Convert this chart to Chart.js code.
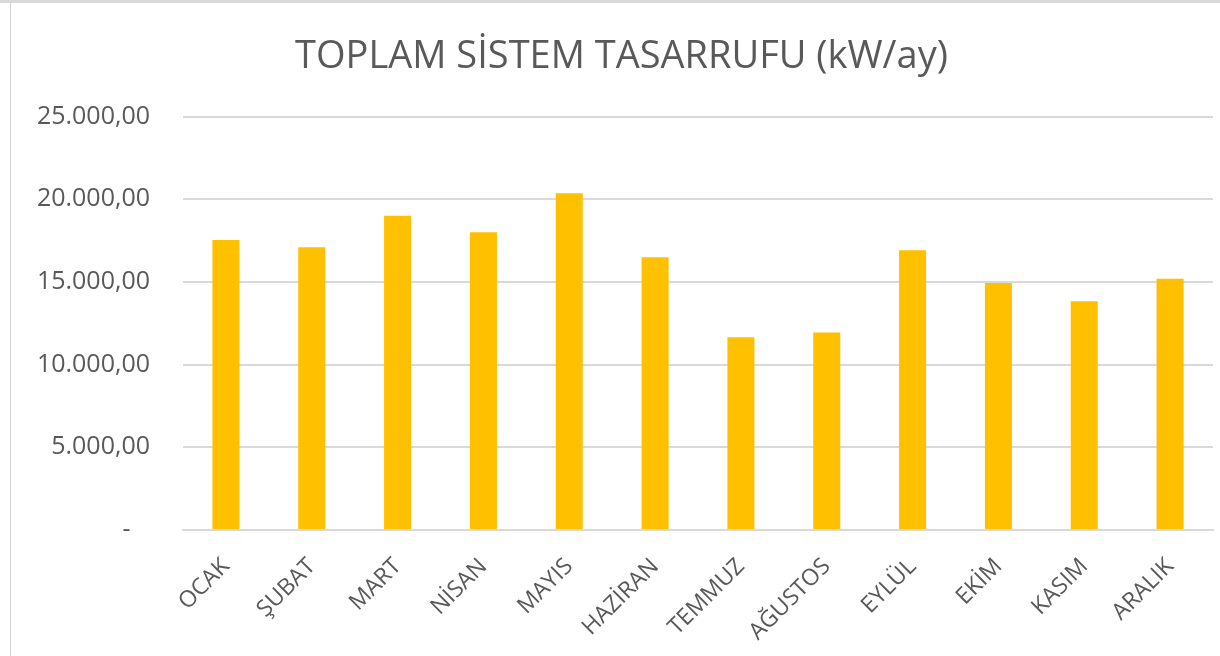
<!DOCTYPE html>
<html>
<head>
<meta charset="utf-8">
<script src="https://cdn.jsdelivr.net/npm/chart.js@4.4.1/dist/chart.umd.min.js"></script>
<style>
  body { margin: 0; background: #fff; overflow: hidden; }
  #frame { position: absolute; left: 0; top: 0; width: 1220px; height: 656px; }
  #topline { position: absolute; left: 0; top: 0; width: 1220px; height: 3px; background: #d9d9d9; }
  #leftline { position: absolute; left: 10px; top: 3px; width: 1px; height: 653px; background: #d0d0d0; }
  #myChart { position: absolute; left: 0; top: 0; }
</style>
</head>
<body>
<div id="frame">
  <div id="topline"></div>
  <div id="leftline"></div>
  <canvas id="myChart"></canvas>
</div>
<script>
const months = ['OCAK', 'ŞUBAT', 'MART', 'NİSAN', 'MAYIS', 'HAZİRAN', 'TEMMUZ', 'AĞUSTOS', 'EYLÜL', 'EKİM', 'KASIM', 'ARALIK'];
const savings = [17540, 17100, 19010, 18000, 20360, 16490, 11650, 11950, 16920, 14940, 13830, 15200];
const yTicks = [0, 5000, 10000, 15000, 20000, 25000];
const chartTitle = 'TOPLAM SİSTEM TASARRUFU (kW/ay)';

const textColor = '#595959';
const gridColor = '#d9d9d9';

function formatTr(v) {
    if (v === 0) return '-   ';
    const whole = Math.round(v).toString().replace(/\B(?=(\d{3})+(?!\d))/g, '.');
    return whole + ',00';
}

document.addEventListener('DOMContentLoaded', () => {
    const chartElement = document.getElementById('myChart');
    chartElement.width = 1220;
    chartElement.height = 656;

    new Chart(chartElement, {
        type: 'bar',
        data: {
            labels: months,
            datasets: [{
                label: 'Tasarruf',
                data: savings,
                backgroundColor: '#ffc000',
                borderWidth: 0,
                categoryPercentage: 1,
                barPercentage: 0.315
            }]
        },
        options: {
            responsive: false,
            animation: false,
            layout: { padding: { left: 30, right: 7, top: 0, bottom: 0 } },
            plugins: {
                legend: { display: false },
                tooltip: { enabled: false },
                title: {
                    display: true,
                    text: chartTitle,
                    color: textColor,
                    font: { family: 'Open Sans', size: 38, weight: 'normal' },
                    padding: { top: 34, bottom: 37 }
                }
            },
            scales: {
                x: {
                    grid: { display: false },
                    border: { color: gridColor, width: 2 },
                    ticks: {
                        color: textColor,
                        font: { family: 'Open Sans', size: 23 },
                        maxRotation: 45,
                        minRotation: 45,
                        autoSkip: false,
                        padding: 15
                    },
                    afterFit: (scale) => { scale.height = 126; }
                },
                y: {
                    min: 0,
                    max: 25000,
                    afterBuildTicks: (scale) => { scale.ticks = yTicks.map(v => ({ value: v })); },
                    grid: { color: gridColor, lineWidth: 2, drawTicks: false },
                    border: { display: false },
                    ticks: {
                        color: textColor,
                        font: { family: 'Open Sans', size: 25 },
                        padding: 33,
                        callback: (value) => formatTr(value)
                    },
                    afterFit: (scale) => { scale.width = 153; }
                }
            }
        }
    });
});
</script>
</body>
</html>
